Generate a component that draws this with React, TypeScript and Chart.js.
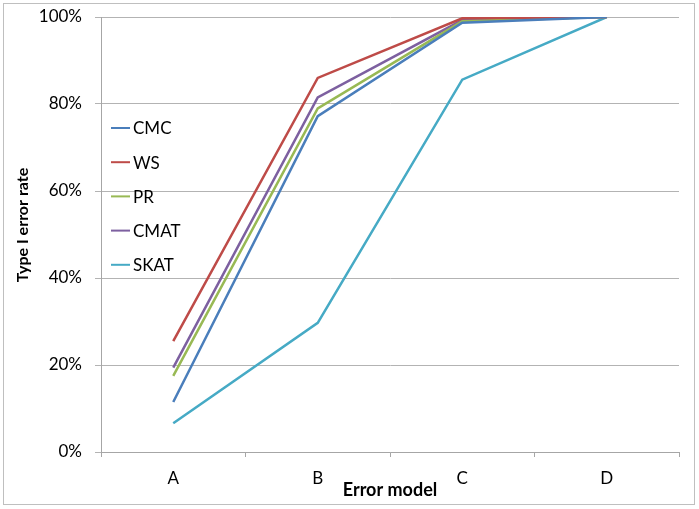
import React, { useEffect, useRef } from "react";
import { Chart, registerables } from "chart.js";

Chart.register(...registerables);

const categories = ["A", "B", "C", "D"];
const seriesNames = ["CMC", "WS", "PR", "CMAT", "SKAT"];
const cmc = [11.5, 77.2, 98.7, 100];
const ws = [25.5, 86.0, 99.7, 100];
const pr = [17.5, 79.0, 99.0, 100];
const cmat = [19.4, 81.5, 99.3, 100];
const skat = [6.6, 29.7, 85.6, 100];
const colors = ["#4A7EBB", "#BE4B48", "#98B954", "#7D60A0", "#46AAC5"];
const yTicks = [0, 20, 40, 60, 80, 100];
const yTitle = "Type I error rate";

const FONT = "Lato, 'Open Sans', sans-serif";

const insideLegend = {
  id: "insideLegend",
  afterDraw(chart: any) {
    const { ctx, chartArea } = chart;
    ctx.save();
    ctx.font = `17px ${FONT}`;
    ctx.textBaseline = "middle";
    ctx.textAlign = "left";
    chart.data.datasets.forEach((ds: any, i: number) => {
      const y = chartArea.top + 111 + i * 34.2;
      const x0 = chartArea.left + 10;
      ctx.strokeStyle = ds.borderColor;
      ctx.lineWidth = 2;
      ctx.beginPath();
      ctx.moveTo(x0, y);
      ctx.lineTo(x0 + 19, y);
      ctx.stroke();
      ctx.fillStyle = "#000";
      ctx.fillText(ds.label, x0 + 22, y + 1);
    });
    ctx.restore();
  },
};

const decorations = {
  id: "decorations",
  afterDraw(chart: any) {
    const { ctx } = chart;
    ctx.save();
    ctx.strokeStyle = "#bfbfbf";
    ctx.lineWidth = 1;
    ctx.strokeRect(3.5, 3.5, 691, 501);
    ctx.translate(23, 225);
    ctx.rotate(-Math.PI / 2);
    ctx.font = `bold 16px ${FONT}`;
    ctx.fillStyle = "#000";
    ctx.textAlign = "center";
    ctx.textBaseline = "middle";
    ctx.fillText(yTitle, 0, 0);
    ctx.restore();
  },
};

export default function App() {
  const ref = useRef<HTMLCanvasElement>(null);
  useEffect(() => {
    document.body.style.margin = "0";
    const seriesData = [cmc, ws, pr, cmat, skat];
    const chart = new Chart(ref.current!, {
      type: "line",
      data: {
        labels: categories,
        datasets: seriesNames.map((n, i) => ({
          label: n,
          data: seriesData[i],
          borderColor: colors[i],
          backgroundColor: colors[i],
          borderWidth: 2.5,
          pointRadius: 0,
          tension: 0,
        })),
      },
      options: {
        animation: false,
        responsive: false,
        layout: { padding: { left: 0, top: 17, right: 20, bottom: 0 } },
        plugins: { legend: { display: false }, tooltip: { enabled: false } },
        scales: {
          x: {
            offset: true,
            grid: { offset: true, drawOnChartArea: false, drawTicks: true, tickLength: 5, color: "#a6a6a6" },
            border: { color: "#a6a6a6" },
            ticks: { color: "#000", font: { size: 17, family: FONT }, padding: 11 },
            title: { display: true, text: "Error model", color: "#000", font: { size: 18, weight: "bold", family: FONT }, padding: { top: 0, bottom: 8 } },
            afterFit: (s: any) => {
              s.height = 57;
              s.paddingLeft = 0;
              s.paddingRight = 0;
            },
          },
          y: {
            min: 0,
            max: 100,
            afterBuildTicks: (s: any) => { s.ticks = yTicks.map((v) => ({ value: v })); },
            grid: { color: "#b3b3b3", tickLength: 6 },
            border: { color: "#a6a6a6" },
            ticks: { color: "#000", font: { size: 17, family: FONT }, padding: 13, callback: (v: any) => v + "%" },
            afterFit: (s: any) => {
              s.width = 101;
              s.paddingTop = 0;
              s.paddingBottom = 0;
            },
          },
        },
      },
      plugins: [insideLegend, decorations],
    });
    return () => chart.destroy();
  }, []);
  return <canvas ref={ref} width={699} height={509} style={{ display: "block" }} />;
}
